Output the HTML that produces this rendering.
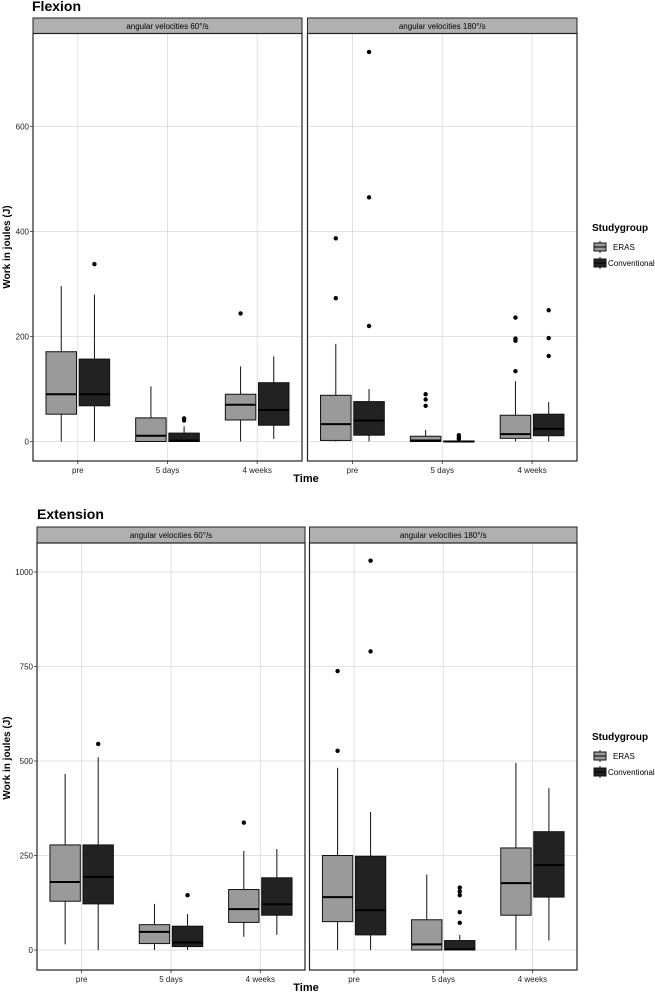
<!DOCTYPE html>
<html><head><meta charset="utf-8"><style>
html,body{margin:0;padding:0;background:#fff;width:655px;height:992px;overflow:hidden}
svg{display:block;font-family:"Liberation Sans",Arial,sans-serif}
</style></head><body>
<svg id="chart" width="655" height="992" viewBox="0 0 655 992" xmlns="http://www.w3.org/2000/svg"></svg>
<script>
const categories = ["pre","5 days","4 weeks"];
const groups = ["ERAS","Conventional"];
const velocities = ["angular velocities 60°/s","angular velocities 180°/s"];
// each box: [min, q1, median, q3, whiskerMax]
const flex60Eras = [[0,52,90,171,296],[0,0,11,45,105],[0,41,70,90,143]];
const flex60Conv = [[0,68,90,157,280],[0,0,2,16,29],[5,31,60,112,162]];
const flex180Eras = [[0,2,33,88,186],[0,0,2,10,22],[0,6,14,50,115]];
const flex180Conv = [[0,12,40,76,100],[0,0,0,1,5],[0,11,24,52,75]];
const flex60ErasOut = [[],[],[244]];
const flex60ConvOut = [[338],[40,44],[]];
const flex180ErasOut = [[387,273],[90,80,68],[236,196,192,134]];
const flex180ConvOut = [[742,465,220],[12,8,5],[250,197,163]];
const ext60Eras = [[15,129,180,278,466],[0,17,48,67,122],[35,73,108,160,262]];
const ext60Conv = [[0,122,193,278,510],[0,9,20,63,95],[40,92,121,191,267]];
const ext180Eras = [[0,75,140,250,482],[0,0,15,80,200],[0,92,177,270,495]];
const ext180Conv = [[0,40,105,248,365],[0,0,2,25,40],[25,140,225,313,428]];
const ext60ErasOut = [[],[],[337]];
const ext60ConvOut = [[545],[145],[]];
const ext180ErasOut = [[738,527],[],[]];
const ext180ConvOut = [[1030,790],[165,155,145,100,72],[]];
const flexTicks = [0,200,400,600];
const extTicks = [0,250,500,750,1000];

const svg = document.getElementById('chart');
const NS = "http://www.w3.org/2000/svg";
function mk(tag, attrs, parent, text){
  const e = document.createElementNS(NS, tag);
  for (const k in attrs) e.setAttribute(k, attrs[k]);
  if (text !== undefined) e.textContent = text;
  (parent||svg).appendChild(e);
  return e;
}
const colors = ["#9a9a9a","#222222"];

function figure(cfg){
  const g = mk('g',{});
  
  
  const t = mk('text',{x:cfg.titleX,y:cfg.titleY,'font-size':14,'font-weight':'bold',fill:'#000'},g,cfg.title);
  
  
  const yS = v => cfg.y0 - (v/cfg.yUnit)*cfg.yPx;
  cfg.panels.forEach((p,pi)=>{
    const pg = mk('g',{},g);
    
    
    const x0=p.x0, x1=p.x1, w=x1-x0;
    const step = w/3;
    const xC = i => x0 + step*(i+0.5);
    // strip
    const st = mk('rect',{x:x0,y:cfg.stripTop,width:w,height:cfg.plotTop-cfg.stripTop,fill:'#b0b0b0',stroke:'#222','stroke-width':1},pg);
    
    
    mk('text',{x:(x0+x1)/2,y:cfg.stripTop+11,'font-size':8,'text-anchor':'middle',fill:'#000'},pg,velocities[pi]);
    // grid
    cfg.ticks.forEach(tv=>{
      const gl = mk('line',{x1:x0,x2:x1,y1:yS(tv),y2:yS(tv),stroke:'#d9d9d9','stroke-width':0.8},pg);
      
      
    });
    categories.forEach((c,i)=>{
      const gl = mk('line',{x1:xC(i),x2:xC(i),y1:cfg.plotTop,y2:cfg.plotBot,stroke:'#d9d9d9','stroke-width':0.8},pg);
      
      
      const tl = mk('text',{x:xC(i),y:cfg.plotBot+12,'font-size':8,'text-anchor':'middle',fill:'#222'},pg,c);
      
      
      mk('line',{x1:xC(i),x2:xC(i),y1:cfg.plotBot,y2:cfg.plotBot+3,stroke:'#333','stroke-width':0.8},pg);
    });
    // boxes
    const bw = step*0.34, off = step*0.185;
    [p.eras,p.conv].forEach((series,gi)=>{
      const outs = gi? p.convOut : p.erasOut;
      series.forEach((b,i)=>{
        const cx = xC(i) + (gi? off : -off);
        const bg = mk('g',{},pg);
        
        
        mk('line',{x1:cx,x2:cx,y1:yS(b[0]),y2:yS(b[4]),stroke:'#111','stroke-width':1},bg);
        const top=yS(b[3]), bot=yS(b[1]);
        mk('rect',{x:cx-bw/2,y:top,width:bw,height:Math.max(bot-top,0.8),fill:colors[gi],stroke:'#111','stroke-width':1},bg);
        mk('line',{x1:cx-bw/2,x2:cx+bw/2,y1:yS(b[2]),y2:yS(b[2]),stroke:'#000','stroke-width':2},bg);
        outs[i].forEach(o=>{
          const pt = mk('circle',{cx:cx,cy:yS(o),r:2.2,fill:'#000'},bg);
          
          
        });
      });
    });
    const fr = mk('rect',{x:x0,y:cfg.plotTop,width:w,height:cfg.plotBot-cfg.plotTop,fill:'none',stroke:'#222','stroke-width':1.2},pg);
    
    
    if(pi===0){
      cfg.ticks.forEach(tv=>{
        const tl = mk('text',{x:x0-4,y:yS(tv)+3,'font-size':8,'text-anchor':'end',fill:'#222'},pg,tv);
        
        
        mk('line',{x1:x0-3,x2:x0,y1:yS(tv),y2:yS(tv),stroke:'#333','stroke-width':0.8},pg);
      });
    }
  });
  const yl = mk('text',{x:0,y:0,'font-size':10,'font-weight':'bold','text-anchor':'middle',transform:`translate(${cfg.ylabX},${cfg.ylabY}) rotate(-90)`},g,'Work in joules (J)');
  
  
  const xl = mk('text',{x:306,y:cfg.plotBot+21,'font-size':11,'font-weight':'bold','text-anchor':'middle'},g,'Time');
  
  
  // legend
  const lg = mk('g',{},g);
  
  
  mk('text',{x:592,y:cfg.legY,'font-size':10,'font-weight':'bold'},lg,'Studygroup');
  groups.forEach((gname,gi)=>{
    const ky = cfg.legY + 11 + gi*16;
    const en = mk('g',{},lg);
    
    
    mk('line',{x1:600,x2:600,y1:ky-1,y2:ky+11,stroke:'#111','stroke-width':1},en);
    mk('rect',{x:594,y:ky+1,width:12,height:8,fill:colors[gi],stroke:'#111','stroke-width':1},en);
    mk('line',{x1:594,x2:606,y1:ky+5,y2:ky+5,stroke:'#000','stroke-width':1},en);
    mk('text',{x:gi?608:613,y:ky+8,'font-size':8},en,gname);
  });
}

figure({name:'flexion-chart',title:'Flexion',titleX:32,titleY:11,stripTop:18,plotTop:33.5,plotBot:461,y0:441.5,yUnit:200,yPx:105,
  ticks:flexTicks,ylabX:10,ylabY:247,legY:231,
  panels:[{x0:33,x1:302,eras:flex60Eras,conv:flex60Conv,erasOut:flex60ErasOut,convOut:flex60ConvOut},
          {x0:307.5,x1:577,eras:flex180Eras,conv:flex180Conv,erasOut:flex180ErasOut,convOut:flex180ConvOut}]});
figure({name:'extension-chart',title:'Extension',titleX:37,titleY:519,stripTop:527,plotTop:543,plotBot:970,y0:950,yUnit:250,yPx:94.5,
  ticks:extTicks,ylabX:10,ylabY:758,legY:740,
  panels:[{x0:37,x1:305,eras:ext60Eras,conv:ext60Conv,erasOut:ext60ErasOut,convOut:ext60ConvOut},
          {x0:309.5,x1:577,eras:ext180Eras,conv:ext180Conv,erasOut:ext180ErasOut,convOut:ext180ConvOut}]});
</script>
</body></html>
